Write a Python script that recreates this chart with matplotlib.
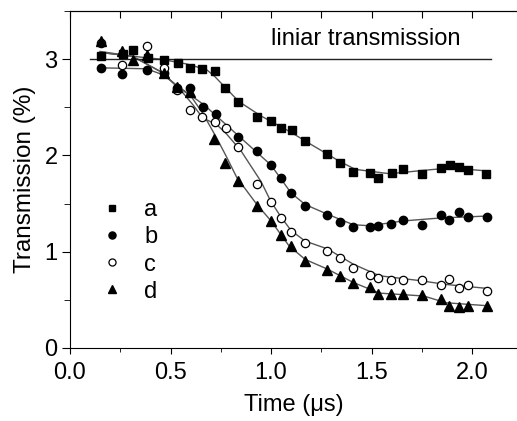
import matplotlib
matplotlib.use("Agg")
import matplotlib.pyplot as plt
from matplotlib.ticker import MultipleLocator

plt.rcParams.update({
    "font.family": ["Liberation Sans", "DejaVu Sans"],
    "font.size": 17,
})

# measured points (time in us, transmission in %)
t_a = [0.154, 0.262, 0.312, 0.386, 0.468, 0.536, 0.597, 0.658, 0.723, 0.771, 0.837,
       0.929, 0.998, 1.048, 1.103, 1.169, 1.277, 1.343, 1.41, 1.493, 1.53, 1.60,
       1.658, 1.753, 1.846, 1.89, 1.935, 1.98, 2.07]
y_a = [3.03, 3.05, 3.09, 3.01, 2.99, 2.96, 2.91, 2.90, 2.88, 2.70, 2.55,
       2.40, 2.36, 2.29, 2.26, 2.15, 2.02, 1.92, 1.83, 1.82, 1.77, 1.82,
       1.86, 1.81, 1.87, 1.90, 1.88, 1.85, 1.81]

t_b = [0.153, 0.26, 0.385, 0.469, 0.534, 0.597, 0.66, 0.726, 0.834, 0.929, 1.0,
       1.048, 1.10, 1.169, 1.277, 1.343, 1.41, 1.493, 1.53, 1.597, 1.658, 1.753,
       1.846, 1.887, 1.935, 1.98, 2.073]
y_b = [2.91, 2.85, 2.89, 2.86, 2.70, 2.70, 2.50, 2.43, 2.19, 2.05, 1.90,
       1.77, 1.61, 1.47, 1.38, 1.31, 1.26, 1.26, 1.27, 1.29, 1.33, 1.28,
       1.38, 1.33, 1.41, 1.36, 1.36]

t_c = [0.153, 0.26, 0.385, 0.468, 0.534, 0.597, 0.655, 0.723, 0.775, 0.834, 0.929,
       0.998, 1.048, 1.10, 1.169, 1.277, 1.343, 1.41, 1.493, 1.53, 1.597, 1.658,
       1.753, 1.846, 1.887, 1.935, 1.98, 2.073]
y_c = [3.17, 2.94, 3.14, 2.91, 2.68, 2.47, 2.40, 2.35, 2.28, 2.09, 1.70,
       1.52, 1.35, 1.20, 1.09, 1.01, 0.93, 0.83, 0.76, 0.73, 0.71, 0.71,
       0.71, 0.65, 0.72, 0.62, 0.65, 0.59]

t_d = [0.153, 0.26, 0.312, 0.385, 0.468, 0.534, 0.597, 0.716, 0.77, 0.837, 0.929,
       0.998, 1.048, 1.10, 1.169, 1.277, 1.343, 1.41, 1.493, 1.53, 1.597, 1.658,
       1.753, 1.846, 1.887, 1.935, 1.98, 2.073]
y_d = [3.19, 3.08, 2.99, 3.04, 2.86, 2.71, 2.66, 2.17, 1.92, 1.73, 1.47,
       1.32, 1.17, 1.06, 0.90, 0.81, 0.75, 0.67, 0.63, 0.56, 0.56, 0.56,
       0.55, 0.51, 0.44, 0.43, 0.44, 0.44]

# fitted curves
ft_a = [0.15, 0.31, 0.45, 0.58, 0.68, 0.72, 0.84, 0.95, 1.10, 1.17, 1.34, 1.42, 1.59, 1.76, 1.89, 2.07]
fy_a = [3.07, 3.03, 3.00, 2.95, 2.89, 2.82, 2.56, 2.41, 2.24, 2.15, 1.94, 1.855, 1.81, 1.845, 1.87, 1.84]
ft_b = [0.15, 0.38, 0.46, 0.55, 0.67, 0.84, 1.0, 1.10, 1.17, 1.28, 1.41, 1.49, 1.66, 1.84, 2.07]
fy_b = [2.91, 2.90, 2.84, 2.70, 2.52, 2.20, 1.90, 1.61, 1.49, 1.39, 1.28, 1.27, 1.32, 1.35, 1.37]
ft_c = [0.15, 0.31, 0.46, 0.55, 0.61, 0.66, 0.73, 0.78, 0.85, 0.95, 1.0, 1.05, 1.10, 1.17,
        1.28, 1.41, 1.54, 1.74, 1.87, 2.07]
fy_c = [3.07, 3.03, 2.86, 2.68, 2.53, 2.39, 2.32, 2.22, 2.05, 1.73, 1.52, 1.36, 1.22, 1.11,
        1.03, 0.87, 0.75, 0.70, 0.66, 0.62]
ft_d = [0.15, 0.31, 0.46, 0.53, 0.60, 0.66, 0.73, 0.78, 0.83, 0.93, 1.0, 1.09, 1.17, 1.28,
        1.41, 1.54, 1.76, 1.87, 2.07]
fy_d = [3.08, 3.03, 2.86, 2.72, 2.62, 2.44, 2.18, 1.98, 1.77, 1.49, 1.32, 1.06, 0.92, 0.82,
        0.68, 0.57, 0.54, 0.47, 0.44]

linear_t = [0.10, 2.095]
linear_y = [3.0, 3.0]

fig = plt.figure(figsize=(5.17, 4.21), dpi=100)
ax = fig.add_axes([70 / 517, 73 / 421, 447 / 517, 337 / 421])

fit_kw = dict(color="#555555", linewidth=1.0, zorder=2)
for ft, fy in [(ft_a, fy_a), (ft_b, fy_b), (ft_c, fy_c), (ft_d, fy_d)]:
    ax.plot(ft, fy, **fit_kw)
ax.plot(linear_t, linear_y, color="#222222", linewidth=1.0, zorder=2)

ax.plot(t_a, y_a, "s", ms=5.5, color="black", ls="none", label="a", zorder=3)
ax.plot(t_b, y_b, "o", ms=6, color="black", ls="none", label="b", zorder=3)
ax.plot(t_c, y_c, "o", ms=6, mfc="white", mec="black", mew=0.9, ls="none", label="c", zorder=3)
ax.plot(t_d, y_d, "^", ms=6.5, color="black", ls="none", label="d", zorder=3)

ax.text(1.00, 3.21, "liniar transmission", fontsize=17, ha="left", va="center")

ax.set_xlim(0, 447 / 201)
ax.set_ylim(0, 3.5)
ax.xaxis.set_major_locator(MultipleLocator(0.5))
ax.xaxis.set_minor_locator(MultipleLocator(0.25))
ax.yaxis.set_major_locator(MultipleLocator(1))
ax.yaxis.set_minor_locator(MultipleLocator(0.5))
ax.tick_params(axis="x", which="both", direction="out", labelsize=17, pad=6)
ax.tick_params(axis="x", which="major", length=4)
ax.tick_params(axis="x", which="minor", length=3)
ax.tick_params(axis="y", which="major", direction="out", length=6, labelsize=17, pad=3)
ax.tick_params(axis="y", which="minor", direction="out", length=4)
ax.spines["right"].set_visible(False)

# top axis: ticks pointing into the plot
top = ax.secondary_xaxis("top")
top.xaxis.set_major_locator(MultipleLocator(0.25))
top.tick_params(axis="x", direction="in", length=5, labeltop=False)

ax.set_xlabel("Time (μs)", fontsize=17, labelpad=7)
ax.set_ylabel("Transmission (%)", fontsize=17.5, labelpad=6)

ax.legend(loc="center left", bbox_to_anchor=(0.015, 0.288), frameon=False,
          handlelength=1.2, handletextpad=0.76, labelspacing=0.22, fontsize=17,
          markerscale=0.85)

fig.savefig("out.png", dpi=100)
